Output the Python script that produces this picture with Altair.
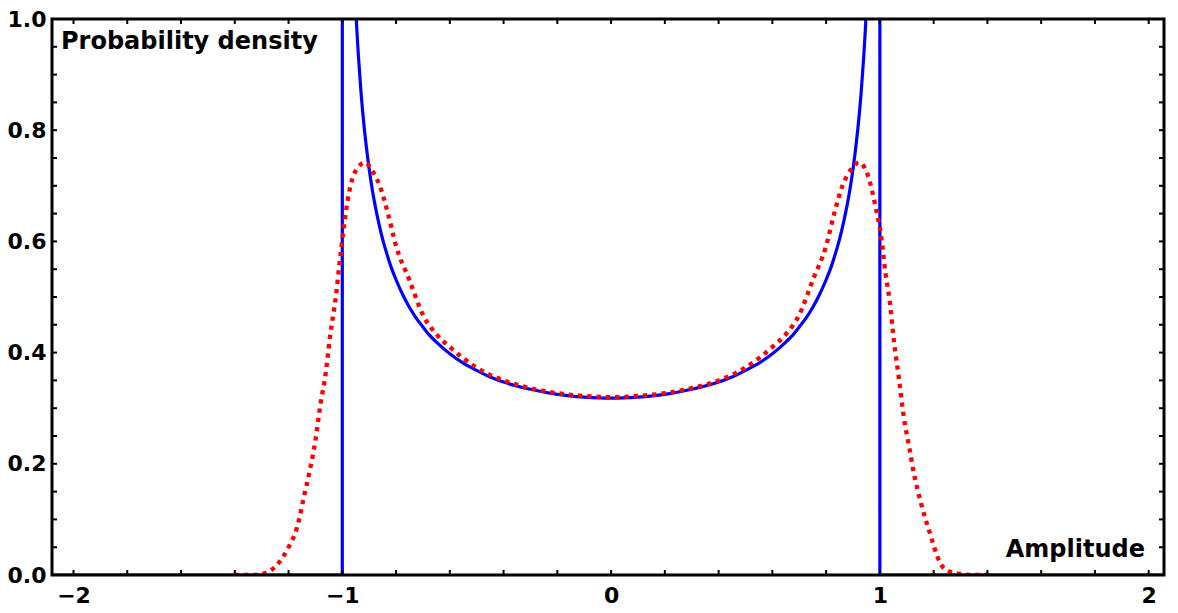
import altair as alt
import pandas as pd

# Blue: ideal (noise-free) amplitude density
blue_x = [-2.08, -1.0, -0.9995, -0.999, -0.995, -0.99, -0.98, -0.97, -0.96, -0.955, -0.95, -0.945,
          -0.94, -0.93, -0.92, -0.91, -0.90, -0.89, -0.88, -0.87, -0.86, -0.85, -0.84, -0.82,
          -0.80, -0.775, -0.75, -0.725, -0.70, -0.675, -0.65, -0.60, -0.55, -0.50, -0.45, -0.40,
          -0.30, -0.20, -0.10, 0.0,
          0.10, 0.20, 0.30, 0.40, 0.45, 0.50, 0.55, 0.60, 0.65, 0.675, 0.70, 0.725, 0.75, 0.775,
          0.80, 0.82, 0.84, 0.85, 0.86, 0.87, 0.88, 0.89, 0.90, 0.91, 0.92, 0.93, 0.94, 0.945,
          0.95, 0.955, 0.96, 0.97, 0.98, 0.99, 0.995, 0.999, 0.9995, 1.0, 2.057]
blue_y = [0.0, 0.0, 10.07, 7.12, 3.19, 2.256, 1.600, 1.309, 1.137, 1.073, 1.020, 0.973,
          0.933, 0.866, 0.812, 0.768, 0.730, 0.698, 0.670, 0.646, 0.624, 0.604, 0.587, 0.556,
          0.531, 0.504, 0.481, 0.462, 0.446, 0.431, 0.419, 0.398, 0.381, 0.368, 0.356, 0.347,
          0.334, 0.325, 0.320, 0.318,
          0.320, 0.325, 0.334, 0.347, 0.356, 0.368, 0.381, 0.398, 0.419, 0.431, 0.446, 0.462, 0.481, 0.504,
          0.531, 0.556, 0.587, 0.604, 0.624, 0.646, 0.670, 0.698, 0.730, 0.768, 0.812, 0.866, 0.933, 0.973,
          1.020, 1.073, 1.137, 1.309, 1.600, 2.256, 3.19, 7.12, 10.07, 0.0, 0.0]

# Red: density with added noise
red_x = [-1.40, -1.34, -1.30, -1.245, -1.20, -1.168, -1.143, -1.121, -1.100, -1.081, -1.062,
         -1.046, -1.025, -1.009, -0.992, -0.969, -0.940, -0.915, -0.89, -0.86, -0.83, -0.80,
         -0.75, -0.70, -0.65, -0.60, -0.50, -0.40, -0.30, -0.20, -0.10, 0.0, 0.10, 0.20, 0.30,
         0.40, 0.50, 0.60, 0.65, 0.70, 0.75, 0.80, 0.83, 0.86, 0.895, 0.922, 0.953, 0.984,
         1.005, 1.021, 1.037, 1.052, 1.071, 1.089, 1.108, 1.127, 1.152, 1.183, 1.226, 1.26,
         1.30, 1.34, 1.40]
red_y = [0.0, 0.0, 0.002, 0.017, 0.050, 0.086, 0.140, 0.188, 0.242, 0.308, 0.362,
         0.428, 0.497, 0.566, 0.635, 0.701, 0.734, 0.742, 0.728, 0.699, 0.650, 0.592,
         0.530, 0.468, 0.433, 0.410, 0.373, 0.350, 0.336, 0.327, 0.322, 0.320, 0.322, 0.327, 0.336,
         0.350, 0.373, 0.410, 0.433, 0.468, 0.530, 0.592, 0.650, 0.699, 0.731, 0.742, 0.722, 0.662,
         0.608, 0.542, 0.491, 0.422, 0.353, 0.284, 0.233, 0.182, 0.131, 0.080, 0.020, 0.006,
         0.002, 0.0, 0.0]

x_tick_labels = [-2, -1, 0, 1, 2]
y_tick_labels = [0.0, 0.2, 0.4, 0.6, 0.8, 1.0]
x_minor = [-2.0, -1.8, -1.6, -1.4, -1.2, -1.0, -0.8, -0.6, -0.4, -0.2, 0.0,
           0.2, 0.4, 0.6, 0.8, 1.0, 1.2, 1.4, 1.6, 1.8, 2.0]
y_minor = [0.05, 0.10, 0.15, 0.20, 0.25, 0.30, 0.35, 0.40, 0.45, 0.50,
           0.55, 0.60, 0.65, 0.70, 0.75, 0.80, 0.85, 0.90, 0.95]

W, H = 1112, 556
XDOM = [-2.08, 2.057]
YDOM = [0.0, 1.0]
FONT = "DejaVu Sans"

blue_df = pd.DataFrame({"x": blue_x, "y": blue_y})
red_df = pd.DataFrame({"x": red_x, "y": red_y})
xt_df = pd.DataFrame({"v": x_minor})
yt_df = pd.DataFrame({"v": y_minor})

xs = alt.Scale(domain=XDOM, nice=False, zero=False)
ys = alt.Scale(domain=YDOM, nice=False, zero=False)

xaxis = alt.Axis(values=x_tick_labels, format="d", title=None, grid=False, ticks=False,
                 domain=False, labelFont=FONT, labelFontWeight="bold", labelFontSize=22,
                 labelColor="black", labelPadding=10, labelFlush=False)
yaxis = alt.Axis(values=y_tick_labels, format=".1f", title=None, grid=False, ticks=False,
                 domain=False, labelFont=FONT, labelFontWeight="bold", labelFontSize=22,
                 labelColor="black", labelPadding=6, labelFlush=False)

blue = alt.Chart(blue_df).mark_line(color="#0000FF", strokeWidth=3.2, clip=True,
                                    interpolate="monotone").encode(
    x=alt.X("x:Q", scale=xs, axis=xaxis),
    y=alt.Y("y:Q", scale=ys, axis=yaxis),
    order="idx:Q",
).transform_window(idx="row_number()")

red = alt.Chart(red_df).mark_line(color="#FF0000", strokeWidth=4.3, strokeDash=[4.3, 5.0],
                                  interpolate="monotone", clip=True).encode(
    x=alt.X("x:Q", scale=xs),
    y=alt.Y("y:Q", scale=ys),
)

tk = dict(color="black", strokeWidth=2)
bottom_t = alt.Chart(xt_df).mark_rule(**tk).encode(x=alt.X("v:Q", scale=xs), y=alt.value(H), y2=alt.value(H - 5))
top_t = alt.Chart(xt_df).mark_rule(**tk).encode(x=alt.X("v:Q", scale=xs), y=alt.value(0), y2=alt.value(5))
left_t = alt.Chart(yt_df).mark_rule(**tk).encode(y=alt.Y("v:Q", scale=ys), x=alt.value(0), x2=alt.value(5))
right_t = alt.Chart(yt_df).mark_rule(**tk).encode(y=alt.Y("v:Q", scale=ys), x=alt.value(W), x2=alt.value(W - 5))

frame = alt.Chart(pd.DataFrame({"a": [0]})).mark_rect(fill=None, stroke="black", strokeWidth=3).encode(
    x=alt.value(0), x2=alt.value(W), y=alt.value(0), y2=alt.value(H))

ylab = alt.Chart(pd.DataFrame({"t": ["Probability density"]})).mark_text(
    font=FONT, fontWeight="bold", fontSize=24, color="black", align="left", baseline="alphabetic"
).encode(text="t:N", x=alt.value(9), y=alt.value(30))
xlab = alt.Chart(pd.DataFrame({"t": ["Amplitude"]})).mark_text(
    font=FONT, fontWeight="bold", fontSize=24, color="black", align="right", baseline="alphabetic"
).encode(text="t:N", x=alt.value(1093), y=alt.value(538))

chart = alt.layer(blue, red, bottom_t, top_t, left_t, right_t, frame, ylab, xlab).properties(
    width=W, height=H,
    autosize=alt.AutoSizeParams(type="none"),
    padding={"left": 44, "top": 11, "right": 5, "bottom": 40},
).configure_view(stroke=None)

chart.save("out.html", embed_options={"renderer": "svg", "actions": False})
